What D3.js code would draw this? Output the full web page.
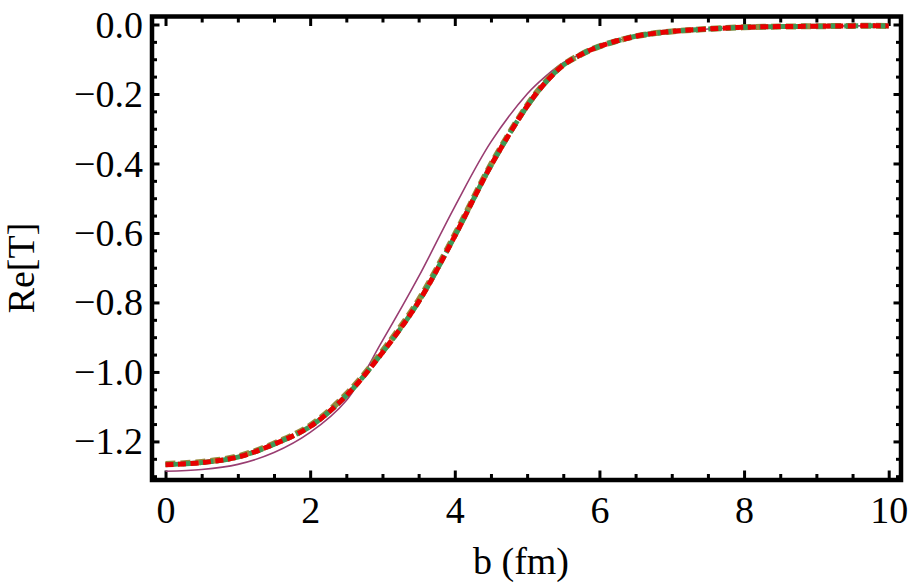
<!DOCTYPE html>
<html>
<head>
<meta charset="utf-8">
<script src="https://cdn.jsdelivr.net/npm/d3@7"></script>
<style>
  body { margin: 0; background: white; }
</style>
</head>
<body>
<svg id="svg"></svg>
<script>
// values (b in fm)
const bValues   = [0, 0.5, 1, 1.5, 2, 2.5, 3, 3.5, 4, 4.5, 5, 5.25, 5.5, 5.75, 6, 6.5, 7, 7.5, 8, 8.5, 9, 9.5, 10];
const reTPurple = [-1.286, -1.281, -1.266, -1.232, -1.174, -1.082, -0.910, -0.726, -0.524, -0.338, -0.200, -0.150, -0.110, -0.085, -0.063, -0.034, -0.020, -0.013, -0.008, -0.006, -0.005, -0.004, -0.004];
const reTOlive  = [-1.265, -1.259, -1.243, -1.206, -1.154, -1.064, -0.940, -0.793, -0.605, -0.403, -0.233, -0.166, -0.116, -0.086, -0.063, -0.034, -0.020, -0.013, -0.008, -0.006, -0.005, -0.004, -0.004];
const reTGreen  = [-1.267, -1.261, -1.245, -1.208, -1.157, -1.068, -0.944, -0.798, -0.609, -0.406, -0.235, -0.168, -0.117, -0.086, -0.063, -0.034, -0.020, -0.013, -0.008, -0.006, -0.005, -0.004, -0.004];
const reTRed    = [-1.267, -1.261, -1.245, -1.208, -1.157, -1.068, -0.944, -0.798, -0.609, -0.406, -0.235, -0.168, -0.117, -0.086, -0.063, -0.034, -0.020, -0.013, -0.008, -0.006, -0.005, -0.004, -0.004];
const xTicks = [0, 2, 4, 6, 8, 10];
const yTicks = [0, -0.2, -0.4, -0.6, -0.8, -1.0, -1.2];

const width = 913;
const height = 586;
const serif = "'Liberation Serif', Tinos, 'Times New Roman', 'DejaVu Serif', serif";
let svg = d3.select("#svg").attr("width", width).attr("height", height);

// frame edges (plot range incl. padding)
const frame = { left: 152, right: 901, top: 16.5, bottom: 480 };

let xScale = d3.scaleLinear().domain([-0.187, 10.17]).range([frame.left, frame.right]);
let yScale = d3.scaleLinear().domain([-1.311, 0.023]).range([frame.bottom, frame.top]);

const xMinor = d3.range(0, 10.01, 0.5).filter(v => xTicks.indexOf(v) < 0);
const yMinor = d3.range(0, -1.31, -0.05).map(v => +v.toFixed(2)).filter(v => yTicks.indexOf(v) < 0);

function tickAxis(axisFn, scale, pos, values, size, labels) {
    let g = svg.append("g").attr("transform", pos);
    g.call(axisFn(scale).tickValues(values).tickSize(size).tickSizeOuter(0)
        .tickFormat(labels ? d3.format(".1f") : ""));
    g.attr("font-family", null).attr("font-size", null);
    g.select(".domain").remove();
    g.selectAll("line").attr("stroke", "black").attr("stroke-width", 3);
    return g;
}

// bottom
let xAx = tickAxis(d3.axisBottom, xScale, `translate(0,${frame.bottom})`, xTicks, -9.5, true);
xAx.selectAll("text").text(d => d3.format("d")(d))
    .attr("y", 43).attr("dy", 0)
    .style("font-family", serif).style("font-size", "38px").attr("fill", "black");
tickAxis(d3.axisBottom, xScale, `translate(0,${frame.bottom})`, xMinor, -6, false);
// top
tickAxis(d3.axisTop, xScale, `translate(0,${frame.top})`, xTicks, -9.5, false);
tickAxis(d3.axisTop, xScale, `translate(0,${frame.top})`, xMinor, -6, false);
// left
let yAx = tickAxis(d3.axisLeft, yScale, `translate(${frame.left},0)`, yTicks, -7.5, true);
yAx.selectAll("text").attr("x", -9).attr("dy", "0.33em")
    .style("font-family", serif).style("font-size", "38px").attr("fill", "black");
tickAxis(d3.axisLeft, yScale, `translate(${frame.left},0)`, yMinor, -5, false);
// right
tickAxis(d3.axisRight, yScale, `translate(${frame.right},0)`, yTicks, -7.5, false);
tickAxis(d3.axisRight, yScale, `translate(${frame.right},0)`, yMinor, -5, false);

// frame
svg.append("rect")
    .attr("x", frame.left).attr("y", frame.top)
    .attr("width", frame.right - frame.left).attr("height", frame.bottom - frame.top)
    .attr("fill", "none").attr("stroke", "black").attr("stroke-width", 4.5);

// curves
const series = [
    { values: reTPurple, color: "#993d71", width: 1.6, dash: null },
    { values: reTOlive,  color: "#998b3d", width: 6,   dash: "10,5" },
    { values: reTGreen,  color: "#3d9956", width: 5,   dash: "14,3" },
    { values: reTRed,    color: "#e80000", width: 5,   dash: "8,4.5" }
];

let plot = svg.append("g");
series.forEach(s => {
    const line = d3.line()
        .x((d, i) => xScale(bValues[i]))
        .y(d => yScale(d))
        .curve(d3.curveCatmullRom.alpha(0.5));
    plot.append("path")
        .datum(s.values)
        .attr("d", line)
        .attr("fill", "none")
        .attr("stroke", s.color)
        .attr("stroke-width", s.width)
        .attr("stroke-dasharray", s.dash);
});

// axis labels
svg.append("text")
    .attr("x", 521).attr("y", 574)
    .attr("text-anchor", "middle")
    .style("font-family", serif)
    .style("font-size", "38px")
    .text("b (fm)");

svg.append("text")
    .attr("transform", "translate(34,268) rotate(-90)")
    .attr("text-anchor", "middle")
    .style("font-family", serif)
    .style("font-size", "38px")
    .text("Re[T]");
</script>
</body>
</html>
